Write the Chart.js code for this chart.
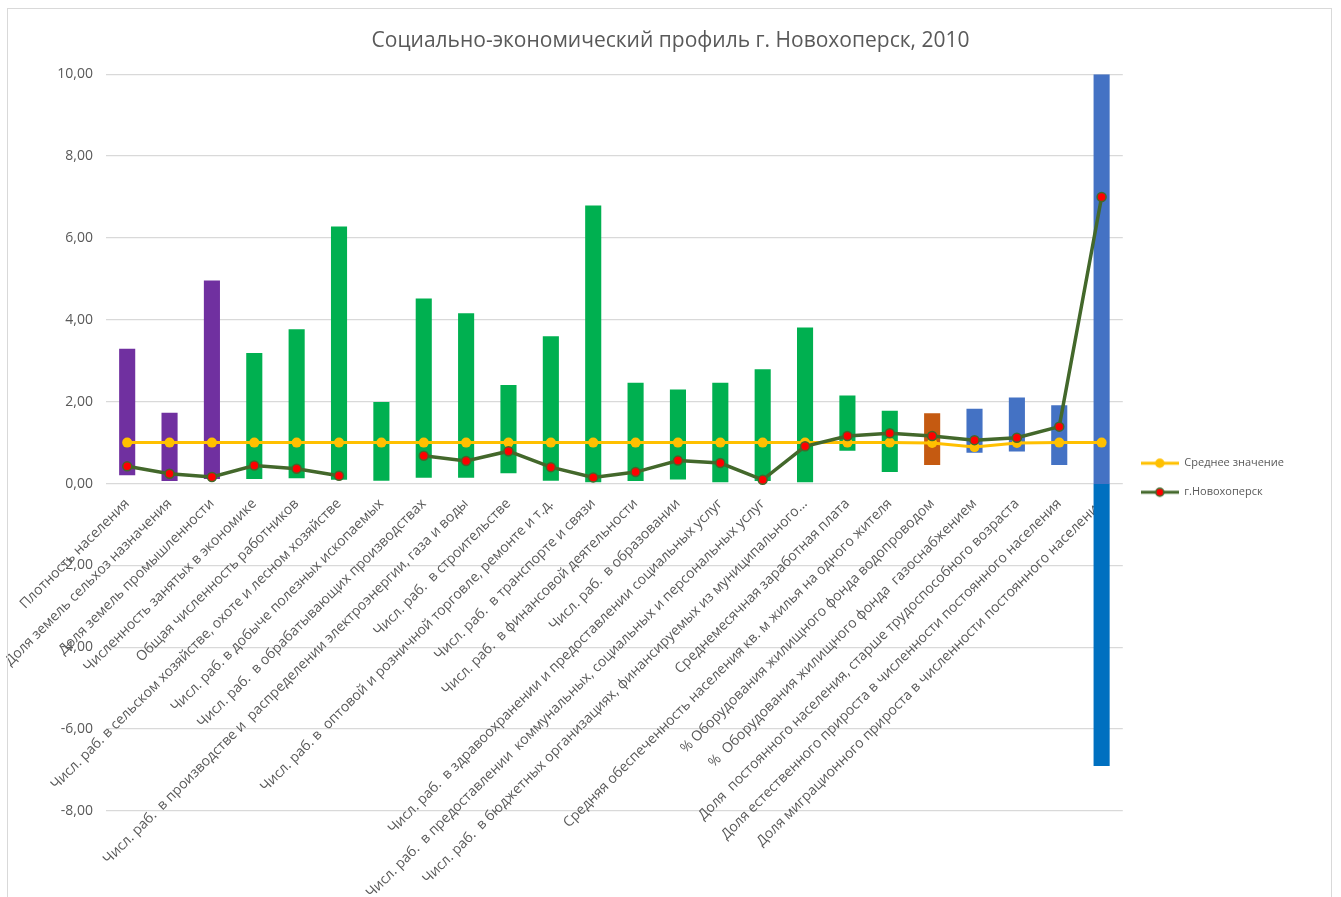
<!DOCTYPE html>
<html>
<head>
<meta charset="utf-8">
<script src="https://cdn.jsdelivr.net/npm/chart.js@4.4.1/dist/chart.umd.min.js"></script>
<style>
  html, body { margin: 0; padding: 0; background: #fff; }
  #wrap { position: relative; width: 1341px; height: 897px; }
  #frame { position: absolute; left: 7px; top: 8px; width: 1323px; height: 900px; border: 1px solid #D9D9D9; pointer-events: none; }
</style>
</head>
<body>
<div id="wrap">
  <canvas id="chart" width="1341" height="897"></canvas>
  <div id="frame"></div>
</div>
<script>
// ---- данные ----
const labels = [
  "Плотность населения",
  "Доля земель сельхоз назначения",
  "Доля земель промышленности",
  "Численность занятых в экономике",
  "Общая численность работников",
  "Числ. раб. в сельском хозяйстве, охоте и лесном хозяйстве",
  "Числ. раб. в добыче полезных ископаемых",
  "Числ. раб.  в обрабатывающих производствах",
  "Числ. раб.  в производстве и  распределении электроэнергии, газа и воды",
  "Числ. раб.  в строительстве",
  "Числ. раб. в  оптовой и розничной торговле, ремонте и т.д.",
  "Числ. раб.  в транспорте и связи",
  "Числ. раб.  в финансовой деятельности",
  "Числ. раб.  в образовании",
  "Числ. раб.  в здравоохранении и предоставлении социальных услуг",
  "Числ. раб.  в предоставлении  коммунальных, социальных и персональных услуг",
  "Числ. раб.  в бюджетных организациях, финансируемых из муниципального...",
  "Среднемесячная заработная плата",
  "Средняя обеспеченность населения кв. м жилья на одного жителя",
  "% Оборудования жилищного фонда водопроводом",
  "%  Оборудования жилищного фонда  газоснабжением",
  "Доля  постоянного населения, старше трудоспособного возраста",
  "Доля естественного прироста в численности постоянного населения",
  "Доля миграционного прироста в численности постоянного населения"
];

// диапазон (мин / макс) по каждому показателю
const rangeMin = [0.20, 0.06, 0.11, 0.11, 0.13, 0.09, 0.07, 0.14, 0.14, 0.25, 0.07, 0.03,
                  0.06, 0.10, 0.03, 0.06, 0.03, 0.80, 0.28, 0.45, 0.75, 0.78, 0.45, -6.90];
const rangeMax = [3.29, 1.73, 4.96, 3.19, 3.77, 6.28, 1.99, 4.52, 4.16, 2.41, 3.60, 6.79,
                  2.46, 2.30, 2.46, 2.79, 3.81, 2.15, 1.78, 1.72, 1.83, 2.10, 1.91, 10.00];

const avgValues = [1, 1, 1, 1, 1, 1, 1, 1, 1, 1, 1, 1,
                   1, 1, 1, 1, 1, 1, 1, 0.99, 0.89, 0.99, 1, 1];
const townValues = [0.42, 0.24, 0.16, 0.44, 0.36, 0.19, null, 0.68, 0.55, 0.79, 0.40, 0.15,
                    0.28, 0.56, 0.50, 0.09, 0.91, 1.16, 1.23, 1.16, 1.06, 1.12, 1.39, 7.00];

// группа показателя -> цвет столбца
const groups = ["land", "land", "land",
  "work", "work", "work", "work", "work", "work", "work", "work", "work", "work", "work", "work", "work", "work", "work", "work",
  "house", "demo", "demo", "demo", "demo"];
const groupColors = { land: "#7030A0", work: "#00B050", house: "#C55A11", demo: "#4472C4" };
const negColor = "#0070C0";

const FONT = "'Open Sans', sans-serif";
const TXT = "#595959";

// ---- образец линии для легенды ----
function legendSample(lineColor, dotColor, dotBorder) {
  const c = document.createElement('canvas');
  c.width = 38; c.height = 12;
  const g = c.getContext('2d');
  g.strokeStyle = lineColor;
  g.lineWidth = 3;
  g.beginPath(); g.moveTo(0, 6); g.lineTo(38, 6); g.stroke();
  g.fillStyle = dotColor;
  g.strokeStyle = dotBorder;
  g.lineWidth = 1.5;
  g.beginPath(); g.arc(19, 6, 4, 0, Math.PI * 2); g.fill(); g.stroke();
  return c;
}
const samples = [legendSample('#FFC000', '#FFC000', '#FFC000'), legendSample('#43682B', '#FF0000', '#43682B')];

const ctx = document.getElementById('chart').getContext('2d');

new Chart(ctx, {
  data: {
    labels: labels,
    datasets: [
      {
        type: 'line',
        label: 'Среднее значение',
        data: avgValues,
        borderColor: '#FFC000',
        backgroundColor: '#FFC000',
        borderWidth: 3,
        pointRadius: 5,
        pointBorderWidth: 0,
        pointBackgroundColor: '#FFC000',
        tension: 0,
        order: 1
      },
      {
        type: 'line',
        label: 'г.Новохоперск',
        data: townValues,
        borderColor: '#43682B',
        backgroundColor: '#FF0000',
        borderWidth: 3.5,
        pointRadius: 4.5,
        pointBorderWidth: 1.5,
        pointBorderColor: '#43682B',
        pointBackgroundColor: '#FF0000',
        tension: 0,
        order: 0
      },
      {
        type: 'bar',
        label: 'Диапазон',
        data: rangeMin.map((v, i) => [v, rangeMax[i]]),
        backgroundColor: (c) => {
          const i = c.dataIndex;
          const base = groupColors[groups[i]];
          if (rangeMin[i] >= 0) return base;
          const area = c.chart.chartArea;
          if (!area) return base;
          const y0 = c.chart.scales.y.getPixelForValue(0);
          const t = (y0 - area.top) / (area.bottom - area.top);
          const gr = c.chart.ctx.createLinearGradient(0, area.top, 0, area.bottom);
          gr.addColorStop(0, base);
          gr.addColorStop(t, base);
          gr.addColorStop(t, negColor);
          gr.addColorStop(1, negColor);
          return gr;
        },
        borderWidth: 0,
        barPercentage: 0.38,
        categoryPercentage: 1,
        order: 2
      }
    ]
  },
  options: {
    responsive: false,
    animation: false,
    layout: { padding: { top: 7, left: 47, right: 47, bottom: 86 } },
    plugins: {
      title: {
        display: true,
        text: 'Социально-экономический профиль г. Новохоперск, 2010',
        color: TXT,
        font: { family: FONT, size: 21, weight: 'normal' },
        padding: { top: 21, bottom: 21 }
      },
      legend: {
        position: 'right',
        title: { display: true, text: ' ', padding: { top: 62, bottom: 61 } },
        labels: {
          filter: (item) => item.datasetIndex < 2,
          sort: (a, b) => a.datasetIndex - b.datasetIndex,
          usePointStyle: true,
          pointStyleWidth: 38,
          color: TXT,
          font: { family: FONT, size: 11 },
          padding: 18,
          generateLabels: (chart) => {
            const items = Chart.defaults.plugins.legend.labels.generateLabels(chart);
            items.forEach(it => { if (it.datasetIndex < 2) it.pointStyle = samples[it.datasetIndex]; });
            return items;
          }
        }
      },
      tooltip: { enabled: false }
    },
    scales: {
      x: {
        position: { y: 0 },
        grid: { display: false },
        border: { display: false },
        ticks: {
          autoSkip: false,
          minRotation: 45,
          maxRotation: 45,
          color: TXT,
          font: { family: FONT, size: 14 },
          padding: 4
        }
      },
      y: {
        min: -8,
        max: 10,
        grid: { color: '#D9D9D9', lineWidth: 1.3, drawTicks: false },
        border: { display: false },
        afterFit: (s) => { s.width = 59; },
        ticks: {
          stepSize: 2,
          padding: 13,
          color: TXT,
          font: { family: FONT, size: 14 },
          callback: (v) => v.toFixed(2).replace('.', ',')
        }
      }
    }
  }
});
</script>
</body>
</html>
